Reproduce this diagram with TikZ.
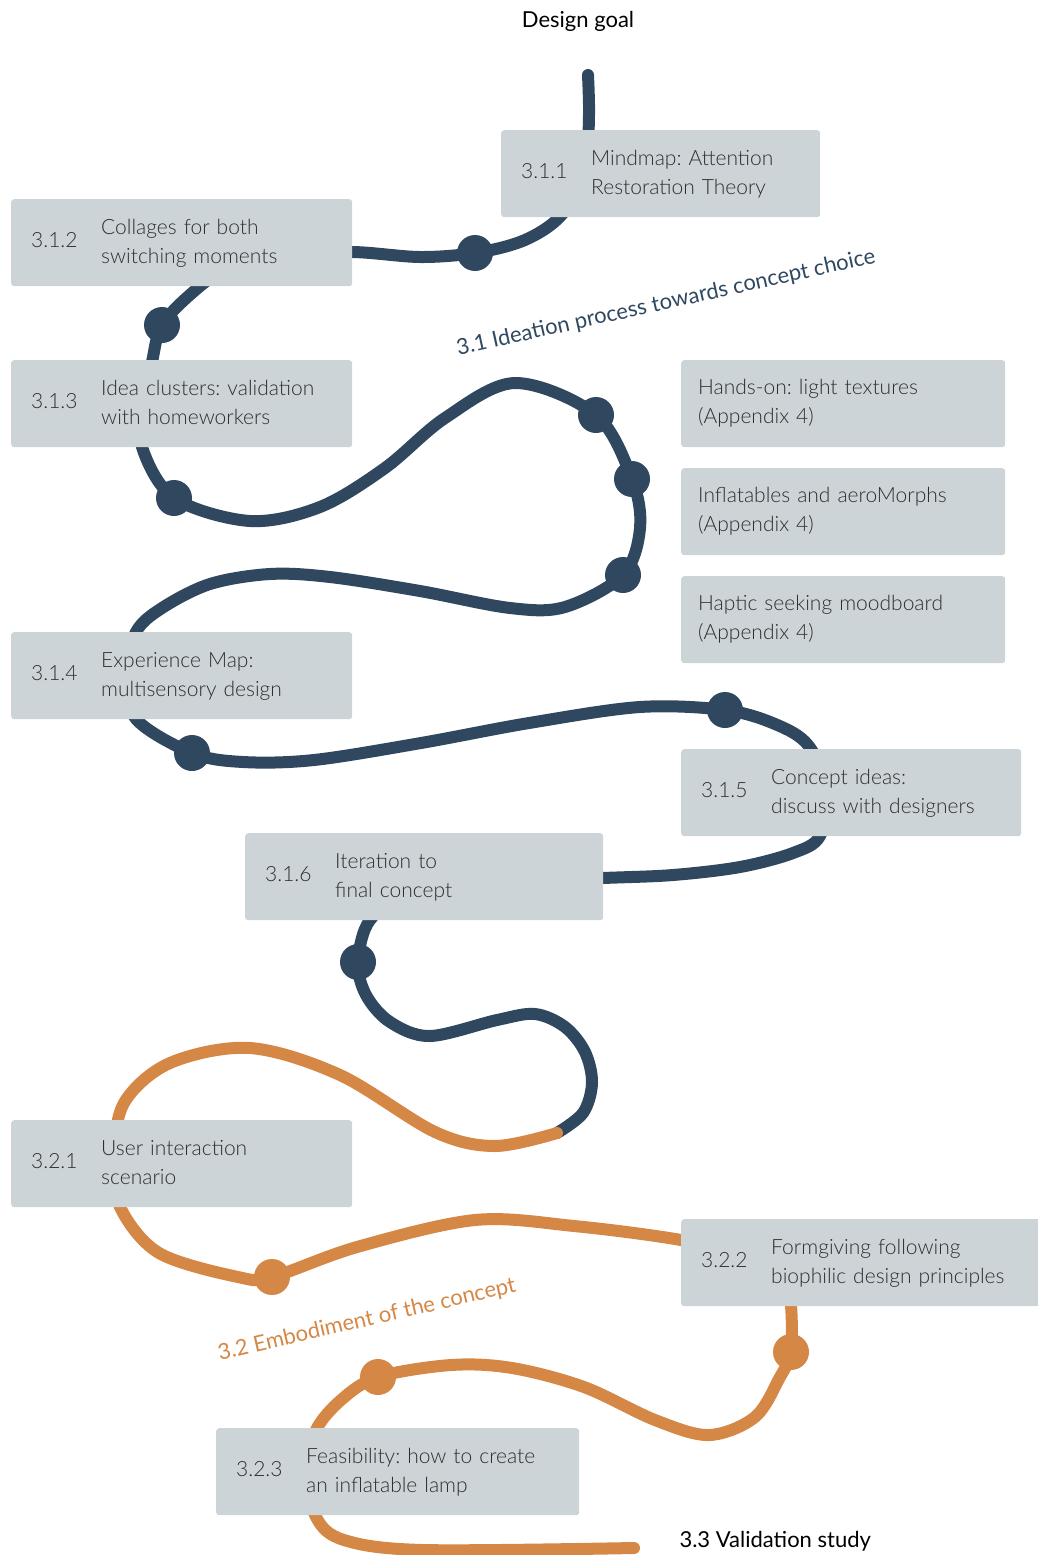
\documentclass[tikz,border=0pt]{standalone}
\usepackage{fontspec}
\setmainfont{Lato}[UprightFont=* Light]
\newfontfamily\headfamily{Lato}
\usetikzlibrary{backgrounds}
\definecolor{trailblue}{HTML}{2F4860}
\definecolor{trailorange}{HTML}{D58746}
\definecolor{boxgrey}{HTML}{CDD4D8}
\definecolor{inkgrey}{HTML}{2E2E2E}
\frenchspacing
\newcommand{\boxfont}{\fontsize{21}{29}\selectfont}
\newcommand{\labelfont}{\headfamily\fontsize{22}{28}\selectfont}
\newcommand{\headfont}{\headfamily\fontsize{22}{28}\selectfont}
\newcommand{\stepitem}[2]{\makebox[70pt][l]{#1}\begin{tabular}[c]{@{}l@{}}#2\end{tabular}}
\tikzset{
  stepbox/.style={fill=boxgrey, rounded corners=3pt, anchor=north west, minimum height=87pt,
    inner xsep=20pt, inner ysep=0pt, text width=#1, align=left, text=inkgrey, font=\boxfont},
  notebox/.style={stepbox=#1, inner xsep=17pt},
  stop/.style={circle, fill=#1, inner sep=0pt, minimum size=36pt},
  trail/.style={draw=#1, line width=12pt, line cap=round, line join=round}
}

\begin{document}
\begin{tikzpicture}[x=1pt, y=-1pt]
\useasboundingbox (0,0) rectangle (1038,1555);

% boxes
\node[stepbox=279pt] (b311) at (501,130) {\stepitem{3.1.1}{Mindmap: Attention\\Restoration Theory}};
\node[stepbox=301pt] (b312) at (11,199) {\stepitem{3.1.2}{Collages for both\\switching moments}};
\node[stepbox=301pt] (b313) at (11,360) {\stepitem{3.1.3}{Idea clusters: validation\\with homeworkers}};
\node[notebox=290pt] (hands) at (681,360) {Hands-on: light textures\\(Appendix 4)};
\node[notebox=290pt] (inflat) at (681,468) {Inflatables and aeroMorphs\\(Appendix 4)};
\node[notebox=290pt] (haptic) at (681,576) {Haptic seeking moodboard\\(Appendix 4)};
\node[stepbox=301pt] (b314) at (11,632) {\stepitem{3.1.4}{Experience Map:\\multisensory design}};
\node[stepbox=300pt] (b315) at (681,749) {\stepitem{3.1.5}{Concept ideas:\\discuss with designers}};
\node[stepbox=318pt] (b316) at (245,833) {\stepitem{3.1.6}{Iteration to\\final concept}};
\node[stepbox=301pt] (b321) at (11,1120) {\stepitem{3.2.1}{User interaction\\scenario}};
\node[stepbox=330pt] (b322) at (681,1219) {\stepitem{3.2.2}{Formgiving following\\biophilic design principles}};
\node[stepbox=323pt] (b323) at (216,1428) {\stepitem{3.2.3}{Feasibility: how to create\\an inflatable lamp}};

% stops on the trail
\node[stop=trailblue] (d1) at (475,253) {};
\node[stop=trailblue] (d2) at (162,325) {};
\node[stop=trailblue] (d3) at (174,498) {};
\node[stop=trailblue] (d4) at (596,415) {};
\node[stop=trailblue] (d5) at (632,479) {};
\node[stop=trailblue] (d6) at (623,575) {};
\node[stop=trailblue] (d7) at (192,753) {};
\node[stop=trailblue] (d8) at (725,710) {};
\node[stop=trailblue] (d9) at (358,962) {};
\node[stop=trailorange] (o1) at (272,1277) {};
\node[stop=trailorange] (o2) at (791,1352) {};
\node[stop=trailorange] (o3) at (378,1377) {};

% labels
\node[font=\headfont] (goal) at (578,21) {Design goal};
\node[font=\headfont, anchor=west] (validation) at (676,1541) {3.3 Validation study};
\node[font=\labelfont, text=trailblue, rotate=12.5] (ideation) at (666,303) {3.1 Ideation process towards concept choice};
\node[font=\labelfont, text=trailorange, rotate=13] (embodiment) at (367,1320) {3.2 Embodiment of the concept};

\begin{pgfonlayer}{background}
\draw[trail=trailblue] plot[smooth, tension=0.55] coordinates {
  (588,75) (589,115) (586,160) (572,200) (552,224) (520,242) (d1.center) (420,257)
  (352,252) (280,255) (225,270) (192,293) (d2.center) (152,362) (144,405) (142,447)
  (d3.center) (250,521) (320,507) (385,468) (445,418) (515,383) (d4.center)
  (d5.center) (640,528) (d6.center) (565,607) (510,608) (420,591) (330,577) (270,574)
  (210,584) (162,608) (136,632) (126,675) (136,719) (d7.center) (243,762) (314,760)
  (421,743) (529,723) (640,707) (d8.center) (775,724) (808,745) (828,790) (820,836)
  (793,853) (740,867) (673,875) (603,878) (500,882) (410,895) (370,920) (d9.center)
  (366,995) (390,1022) (430,1036) (497,1020) (535,1014) (565,1027) (585,1052)
  (592,1083) (583,1113) (557,1133)};
\draw[trail=trailorange] plot[smooth, tension=0.55] coordinates {
  (557,1133) (495,1146) (435,1132) (340,1075) (250,1048) (170,1063) (124,1103)
  (114,1160) (120,1207) (159,1253) (238,1277) (o1.center) (357,1247) (475,1220)
  (574,1226) (681,1240) (755,1258) (786,1285) (791,1305) (o2.center) (780,1377)
  (755,1417) (709,1435) (655,1420) (584,1387) (512,1368) (451,1365) (o3.center)
  (341,1400) (316,1430) (306,1470) (316,1517) (344,1540) (423,1550) (634,1548)};
\end{pgfonlayer}
\end{tikzpicture}
\end{document}
